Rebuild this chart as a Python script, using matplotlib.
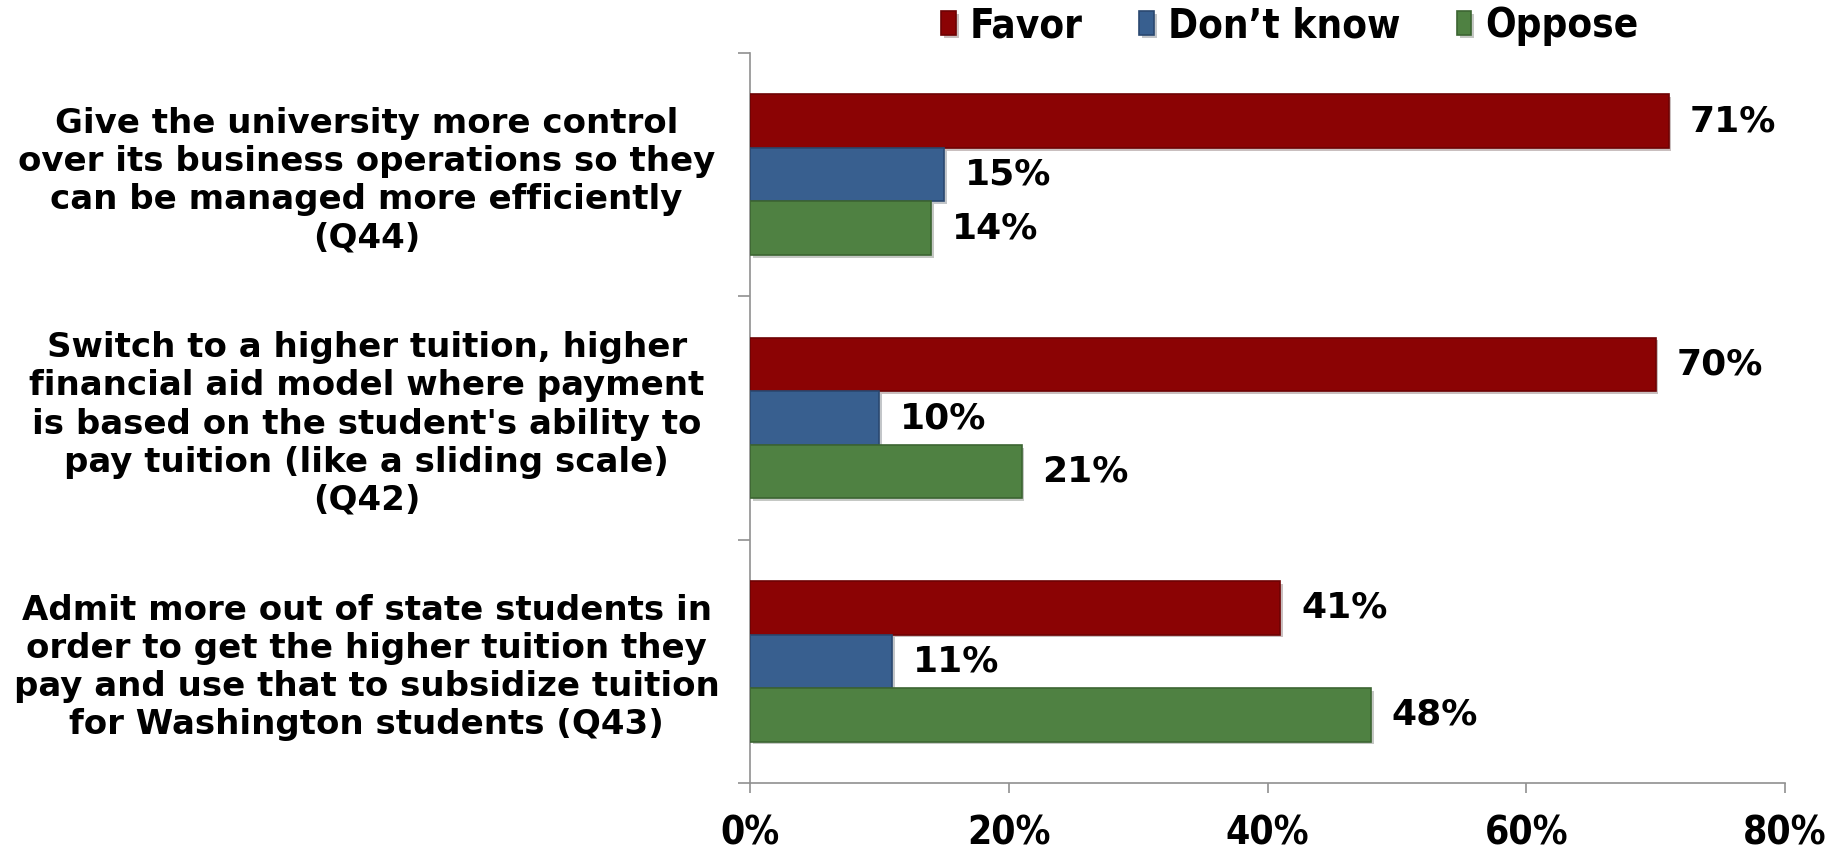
import numpy as np
import matplotlib.pyplot as plt
import matplotlib.patheffects as pe

categories = [
    "Give the university more control\nover its business operations so they\ncan be managed more efficiently\n(Q44)",
    "Switch to a higher tuition, higher\nfinancial aid model where payment\nis based on the student's ability to\npay tuition (like a sliding scale)\n(Q42)",
    "Admit more out of state students in\norder to get the higher tuition they\npay and use that to subsidize tuition\nfor Washington students (Q43)",
]
favor = [71, 70, 41]
dont_know = [15, 10, 11]
oppose = [14, 21, 48]
series_names = ["Favor", "Don\u2019t know", "Oppose"]
xticks = [0, 20, 40, 60, 80]

colors = ["#8B0304", "#385F8F", "#4F8142"]
edges = ["#6E0203", "#2A4870", "#3C6532"]

fig = plt.figure(figsize=(18.46, 8.51), dpi=100)
ax = fig.add_axes([750 / 1846, 1 - 783 / 851, 1035 / 1846, 730 / 851])

y = np.arange(len(categories))
h = 0.22
bars = []
shadow = [pe.SimplePatchShadow(offset=(2, -2), alpha=0.25), pe.Normal()]
for k, vals in enumerate([favor, dont_know, oppose]):
    b = ax.barh(y + (k - 1) * h, vals, height=h, color=colors[k],
                edgecolor=edges[k], linewidth=1.2, label=series_names[k], zorder=3)
    for p in b:
        p.set_path_effects(shadow)
    bars.append(b)
    for yi, v in zip(y + (k - 1) * h, vals):
        ax.text(v + 1.6, yi, f"{v}%", va="center", ha="left",
                fontsize=26, fontweight="bold", family="DejaVu Sans")

ax.set_xlim(0, 80)
ax.set_ylim(len(categories) - 0.5, -0.5)
ax.set_xticks(xticks)
ax.set_xticklabels([f"{t}%" for t in xticks], fontsize=28, fontweight="bold",
                   family="DejaVu Sans", fontstretch="condensed")
ax.tick_params(axis="x", length=7, width=1.2, color="#909090", pad=16)

ax.set_yticks(np.arange(-0.5, len(categories)), labels=[""] * (len(categories) + 1))
ax.tick_params(axis="y", which="major", length=8.5, width=1.2, color="#909090")
ax.set_yticks(y, minor=True)
ax.set_yticklabels(categories, minor=True, fontsize=24.5, fontweight="bold",
                   family="DejaVu Sans", ha="center", multialignment="center")
ax.tick_params(axis="y", which="minor", length=0, pad=276)

for s in ["top", "right"]:
    ax.spines[s].set_visible(False)
for s in ["left", "bottom"]:
    ax.spines[s].set_color("#909090")
    ax.spines[s].set_linewidth(1.2)

fig.legend(handles=bars, labels=series_names, loc="center", ncol=3,
           bbox_to_anchor=(1290 / 1846, 0.969), frameon=False,
           prop={"family": "DejaVu Sans", "weight": "bold", "size": 29, "stretch": "condensed"},
           handlelength=0.36, handleheight=0.55, handletextpad=0.35, columnspacing=1.4)

fig.savefig("out.png", dpi=100)
